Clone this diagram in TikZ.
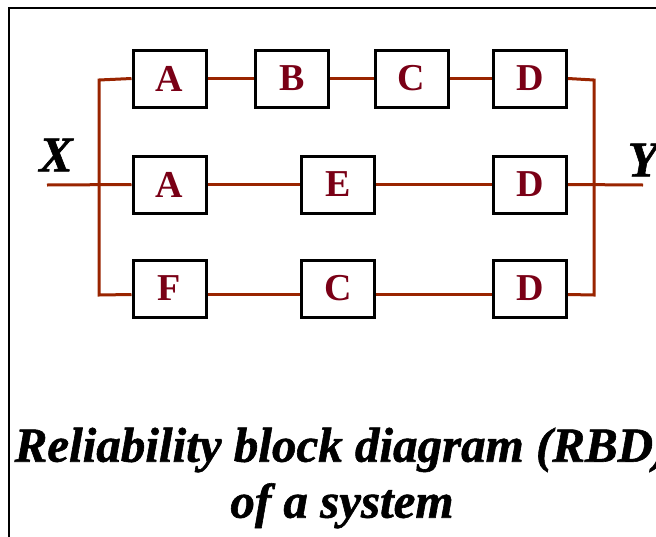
\documentclass[tikz,border=0pt]{standalone}
\usepackage{fontspec}
\setmainfont{Liberation Serif}
\usepackage{tikz}

\definecolor{wirered}{RGB}{153,36,0}
\definecolor{lettred}{RGB}{122,0,22}

\tikzset{
  blk/.style={draw=black, line width=3pt, fill=white, minimum width=73pt,
    minimum height=57pt, inner sep=0pt, text=lettred,
    font=\fontsize{38}{40}\selectfont\bfseries},
  wire/.style={draw=wirered, line width=3pt},
  io/.style={font=\fontsize{50}{50}\selectfont\bfseries\itshape\addfontfeatures{FakeBold=1.2}, inner sep=0pt}
}

\begin{document}
\begin{tikzpicture}[x=1pt,y=-1pt]

    \useasboundingbox (0,0) rectangle (656,536);
    \clip (0,0) rectangle (656,536);

    % frame
    \draw[line width=2pt] (9,540) -- (9,8) -- (660,8);

    % top row
    \node[blk] (a1) at (169.5,78.5) {A};
    \node[blk] (b)  at (292,78.5) {B};
    \node[blk] (c1) at (411.5,78.5) {C};
    \node[blk] (d1) at (530,78.5) {D};

    % middle row
    \node[blk] (a2) at (169.5,184.5) {A};
    \node[blk] (e)  at (338,184.5) {E};
    \node[blk] (d2) at (530,184.5) {D};

    % bottom row
    \node[blk] (f)  at (169.5,288.5) {F};
    \node[blk] (c2) at (338,288.5) {C};
    \node[blk] (d3) at (530,288.5) {D};

    \coordinate (xin) at (47,185);
    \coordinate (yout) at (643,185);
    \coordinate (lt) at (99,80);
    \coordinate (lb) at (99,295);
    \coordinate (rt) at (594,80);
    \coordinate (rb) at (594,295);

    % connections
    \draw[wire] (xin) -- (a2.west);
    \draw[wire] (a1.west) -- (lt) -- (lb) -- ([yshift=-6pt]f.west);
    \draw[wire] (a1) -- (b);
    \draw[wire] (b) -- (c1);
    \draw[wire] (c1) -- (d1);
    \draw[wire] (a2) -- (e);
    \draw[wire] (e) -- (d2);
    \draw[wire] ([yshift=-6pt]f.east) -- ([yshift=-6pt]c2.west);
    \draw[wire] ([yshift=-6pt]c2.east) -- ([yshift=-6pt]d3.west);
    \draw[wire] (d1.east) -- (rt) -- (rb) -- ([yshift=-6pt]d3.east);
    \draw[wire] (d2.east) -- (yout);

    \node[io] (x) at (56,155) {X};
    \node[io] (y) at (643,160) {Y};

    \node[font=\fontsize{49}{56}\selectfont\bfseries\itshape\addfontfeatures{FakeBold=1.2},
      align=center] (title) at (342,478) {Reliability block diagram (RBD)\\ of a system};

\end{tikzpicture}
\end{document}
